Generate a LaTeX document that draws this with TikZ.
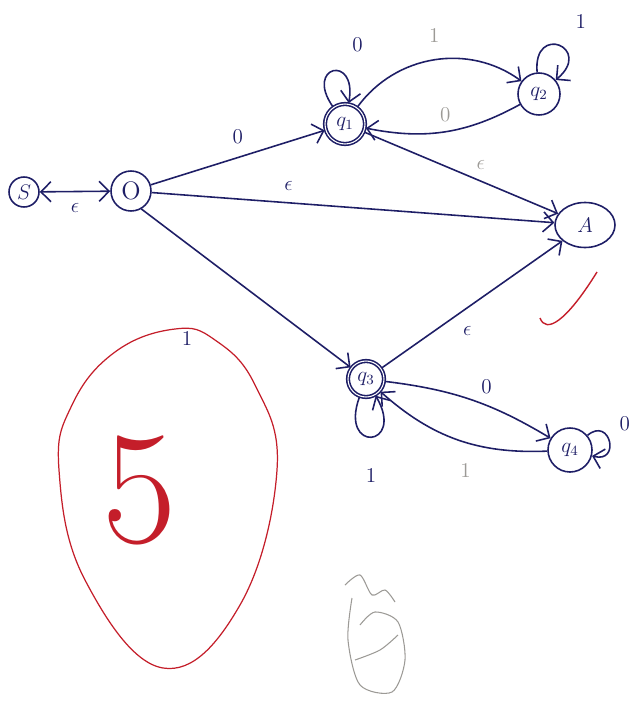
\documentclass[tikz,border=0pt]{standalone}
\usepackage{amsmath, amssymb}
\usetikzlibrary{automata, positioning, shapes.geometric, arrows.meta, calc}
\definecolor{ink}{HTML}{1E1E66}
\definecolor{pencil}{HTML}{9C9A96}
\definecolor{redink}{HTML}{C41E2A}

\begin{document}
\begin{tikzpicture}[x=0.2mm, y=-0.2mm, >={Straight Barb[length=2mm]}, line width=0.9pt, ink,
    every state/.style={draw=ink, line width=0.9pt, inner sep=0pt, font=\large},
    lbl/.style={font=\large}]
        \useasboundingbox (0, 0) rectangle (643, 708);

        % Nodes
        \node [state, minimum size=6mm]   (S)  at (24, 192)  {$S$};
        \node [state, minimum size=8mm]   (O)  at (131, 191) {\Large O};
        \node [state, accepting, minimum size=8mm]   (Q1) at (345, 124) {$q_1$};
        \node [state, minimum size=8.4mm] (Q2) at (539, 94)  {$q_2$};
        \node [state, ellipse, minimum width=12mm, minimum height=9mm] (A) at (585, 225) {$A$};
        \node [state, accepting, minimum size=7.2mm] (Q3) at (366, 379) {$q_3$};
        \node [state, minimum size=8.8mm] (Q4) at (570, 450) {$q_4$};

        % Edges
        \draw[<->] (S) -- node[lbl, below=3pt] {$\epsilon$} (O);
        \draw[->] (O) -- node[lbl, above=4pt] {0} (Q1);
        \draw[->] (O) -- node[lbl, above=3pt, pos=0.34] {$\epsilon$} (A);
        \draw[->] (O.-60) -- (Q3);
        \draw[->] (Q1) -- node[lbl, pencil, above=3pt, pos=0.6] {$\epsilon$} (A);
        \draw[->] (Q3) -- node[lbl, below right=2pt, pos=0.4] {$\epsilon$} (A);
        \draw[->] (Q1) to[bend left=45] node[lbl, pencil, above=6pt] {1} (Q2);
        \draw[->] (Q2) to[bend left=20] node[lbl, pencil, above=2pt] {0} (Q1);
        \draw[->] (Q3) to[bend left=12] node[lbl, above=3pt, pos=0.6] {0} (Q4);
        \draw[->] (Q4) to[bend left=22] node[lbl, pencil, below=8pt, pos=0.45] {1} (Q3);

        % Loops
        \draw[->] (Q1) to[out=125, in=80, min distance=10mm] node[lbl, above right=10pt] {0} (Q1);
        \draw[->] (Q2) to[out=95, in=40, min distance=10mm] node[lbl, above right=8pt] {1} (Q2);
        \draw[->] (Q3) to[out=-110, in=-60, min distance=12mm] node[lbl, below=14pt] {1} (Q3);
        \draw[->] (Q4) to[out=40, in=-15, min distance=6mm] node[lbl, above right=3pt] {0} (Q4);

        % Marking
        \draw[redink, line width=0.7pt] plot[smooth cycle, tension=0.7] coordinates {(175, 329) (115, 352) (72, 405) (59, 470) (85, 580) (163, 668) (240, 605) (277, 470) (255, 385) (215, 340)};
        \node [redink, font=\fontsize{92}{92}\selectfont] (five) at (140, 490) {5};
        \node [lbl, ink] (one) at (187, 338) {1};
        \draw[redink, line width=0.8pt] (540, 318) .. controls (546, 334) and (566, 322) .. (597, 272);
        \draw[pencil, line width=0.6pt] plot[smooth] coordinates {(352, 598) (348, 640) (360, 685) (392, 692) (405, 660) (398, 622) (375, 612) (360, 625)};
        \draw[pencil, line width=0.6pt] plot[smooth] coordinates {(345, 585) (360, 575) (372, 595) (385, 590) (395, 602)};
        \draw[pencil, line width=0.6pt] plot[smooth] coordinates {(355, 660) (380, 650) (398, 635)};

\end{tikzpicture}
\end{document}
